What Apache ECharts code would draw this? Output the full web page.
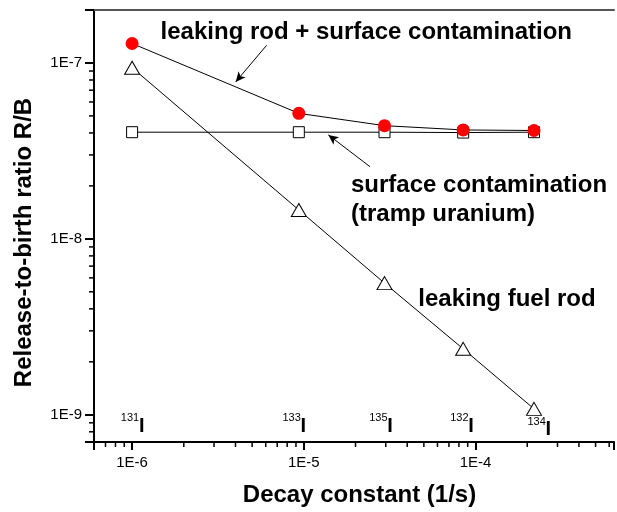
<!DOCTYPE html>
<html><head><meta charset="utf-8">
<script src="https://cdn.jsdelivr.net/npm/echarts@6/dist/echarts.min.js"></script>
<style>html,body{margin:0;padding:0;background:#fff}#c{width:617px;height:512px}</style>
</head><body><div id="c"></div>
<script>
// ---- data ----
const decayConst = [1.0e-6, 9.35e-6, 2.95e-5, 8.47e-5, 2.19e-4];
const combined   = [1.29e-7, 5.17e-8, 4.40e-8, 4.16e-8, 4.13e-8];
const surface    = [4.04e-8, 4.04e-8, 4.04e-8, 4.02e-8, 4.04e-8];
const leakingRod = [9.4e-8, 1.46e-8, 5.6e-9, 2.37e-9, 1.08e-9];
const isotopeMass = ['131', '133', '135', '132', '134'];
const xMinorTicks = [6e-7, 7e-7, 8e-7, 9e-7,
  2e-6, 3e-6, 4e-6, 5e-6, 6e-6, 7e-6, 8e-6, 9e-6,
  2e-5, 3e-5, 4e-5, 5e-5, 6e-5, 7e-5, 8e-5, 9e-5,
  2e-4, 3e-4, 4e-4, 5e-4, 6e-4];
const yMinorTicks = [8e-10, 9e-10,
  2e-9, 3e-9, 4e-9, 5e-9, 6e-9, 7e-9, 8e-9, 9e-9,
  2e-8, 3e-8, 4e-8, 5e-8, 6e-8, 7e-8, 8e-8, 9e-8, 2e-7];
const X_MIN = 6e-7, X_MAX = 6.4e-4, Y_MIN = 7e-10, Y_MAX = 2e-7;

const FONT = '"Liberation Sans", Arial, sans-serif';
function pow10Label(v) {
  const e = Math.round(Math.log10(v));
  if (Math.abs(v / Math.pow(10, e) - 1) < 1e-6) return '1E' + e;
  return '';
}
const pts = arr => decayConst.map((x, i) => [x, arr[i]]);

const chart = echarts.init(document.getElementById('c'), null, {renderer: 'canvas'});

function isoLabel(mass, stemX, digitBase, iBase) {
  const iLeft = stemX - 2.8;
  return [
    {type: 'text', x: iLeft + 0.3, y: digitBase - 0.35 * 11, silent: true,
     style: {text: mass, fontSize: 11, fontFamily: FONT, fill: '#000', align: 'right', verticalAlign: 'middle'}},
    {type: 'text', x: iLeft, y: iBase - 0.35 * 20, silent: true,
     style: {text: 'I', fontSize: 20, fontWeight: 'bold', fontFamily: FONT, fill: '#000', align: 'left', verticalAlign: 'middle'}}
  ];
}
const isoStems = [141.7, 303.3, 390, 471, 548.3];
const isoDigitBase = [421.7, 421.7, 421.7, 421.7, 425.5];
const isoIBase = [433.3, 433.3, 433.3, 433.3, 436.5];
let isoGraphics = [];
isotopeMass.forEach((m, i) => { isoGraphics = isoGraphics.concat(isoLabel(m, isoStems[i], isoDigitBase[i], isoIBase[i])); });

const bold24 = {fontSize: 24, fontWeight: 'bold', fontFamily: FONT, fill: '#000'};

const tickSeriesX = {
  type: 'custom', coordinateSystem: 'cartesian2d', silent: true, clip: false, z: 1,
  data: xMinorTicks.map(v => [v, Y_MIN]),
  renderItem: (params, api) => {
    const p = api.coord([api.value(0), api.value(1)]);
    return {type: 'line', shape: {x1: p[0], y1: p[1], x2: p[0], y2: p[1] + 5},
            style: {stroke: '#000', lineWidth: 1.5}};
  }
};
const tickSeriesY = {
  type: 'custom', coordinateSystem: 'cartesian2d', silent: true, clip: false, z: 1,
  data: yMinorTicks.map(v => [X_MIN, v]),
  renderItem: (params, api) => {
    const p = api.coord([api.value(0), api.value(1)]);
    return {type: 'line', shape: {x1: p[0], y1: p[1], x2: p[0] - 5, y2: p[1]},
            style: {stroke: '#000', lineWidth: 1.5}};
  }
};

chart.setOption({
  animation: false,
  backgroundColor: '#fff',
  grid: {left: 94, right: 0, top: 10, bottom: 70, containLabel: false},
  xAxis: [{
    type: 'log', logBase: 10, min: X_MIN, max: X_MAX, position: 'bottom',
    axisLine: {show: true, lineStyle: {color: '#000', width: 2}},
    axisTick: {show: true, inside: false, length: 8, lineStyle: {color: '#000', width: 2}},
    axisLabel: {show: true, margin: 13, fontSize: 15, fontFamily: FONT, color: '#000', formatter: pow10Label},
    splitLine: {show: false}, minorTick: {show: false}
  }, {
    type: 'log', logBase: 10, min: X_MIN, max: X_MAX, position: 'top',
    axisLine: {show: true, lineStyle: {color: '#555', width: 2}},
    axisTick: {show: false}, axisLabel: {show: false}, splitLine: {show: false}
  }],
  yAxis: {
    type: 'log', logBase: 10, min: Y_MIN, max: Y_MAX,
    axisLine: {show: true, lineStyle: {color: '#000', width: 2}},
    axisTick: {show: true, inside: false, length: 9, lineStyle: {color: '#000', width: 2}},
    axisLabel: {show: true, margin: 12, fontSize: 15, fontFamily: FONT, color: '#000', formatter: pow10Label},
    splitLine: {show: false}, minorTick: {show: false}
  },
  series: [
    tickSeriesX, tickSeriesY,
    {
      name: 'leaking fuel rod', type: 'line', data: pts(leakingRod), z: 3,
      symbol: 'triangle', symbolSize: [15, 13],
      itemStyle: {color: '#fff', borderColor: '#000', borderWidth: 1},
      lineStyle: {color: '#000', width: 1}
    },
    {
      name: 'surface contamination', type: 'line', data: pts(surface), z: 4,
      symbol: 'rect', symbolSize: 11,
      itemStyle: {color: '#fff', borderColor: '#000', borderWidth: 1},
      lineStyle: {color: '#000', width: 1},
      markLine: {
        silent: true, symbol: ['none', 'arrow'], symbolSize: [7, 10],
        lineStyle: {color: '#000', width: 1, type: 'solid'}, label: {show: false},
        data: [[{coord: [2.43e-5, 2.57e-8]}, {coord: [1.39e-5, 3.90e-8]}]]
      }
    },
    {
      name: 'leaking rod + surface contamination', type: 'line', data: pts(combined), z: 5,
      symbol: 'circle', symbolSize: 13,
      itemStyle: {color: '#ff0000', borderWidth: 0},
      lineStyle: {color: '#000', width: 1},
      markLine: {
        silent: true, symbol: ['none', 'arrow'], symbolSize: [7, 10],
        lineStyle: {color: '#000', width: 1, type: 'solid'}, label: {show: false},
        data: [[{coord: [6.07e-6, 1.26e-7]}, {coord: [4.01e-6, 7.8e-8]}]]
      }
    }
  ],
  graphic: [
    {type: 'text', x: 160.6, y: 32.4, silent: true,
     style: Object.assign({text: 'leaking rod + surface contamination', align: 'left', verticalAlign: 'middle'}, bold24)},
    {type: 'text', x: 351, y: 185.7, silent: true,
     style: Object.assign({text: 'surface contamination', align: 'left', verticalAlign: 'middle'}, bold24)},
    {type: 'text', x: 351, y: 214.4, silent: true,
     style: Object.assign({text: '(tramp uranium)', align: 'left', verticalAlign: 'middle'}, bold24)},
    {type: 'text', x: 418.3, y: 299, silent: true,
     style: Object.assign({text: 'leaking fuel rod', align: 'left', verticalAlign: 'middle'}, bold24)},
    {type: 'text', x: 359.5, y: 495.7, silent: true,
     style: Object.assign({text: 'Decay constant (1/s)', align: 'center', verticalAlign: 'middle'}, bold24)},
    {type: 'text', x: 24.7, y: 242.5, rotation: Math.PI / 2, silent: true,
     style: Object.assign({text: 'Release-to-birth ratio R/B', align: 'center', verticalAlign: 'middle'}, bold24)}
  ].concat(isoGraphics)
});
</script>
</body></html>
